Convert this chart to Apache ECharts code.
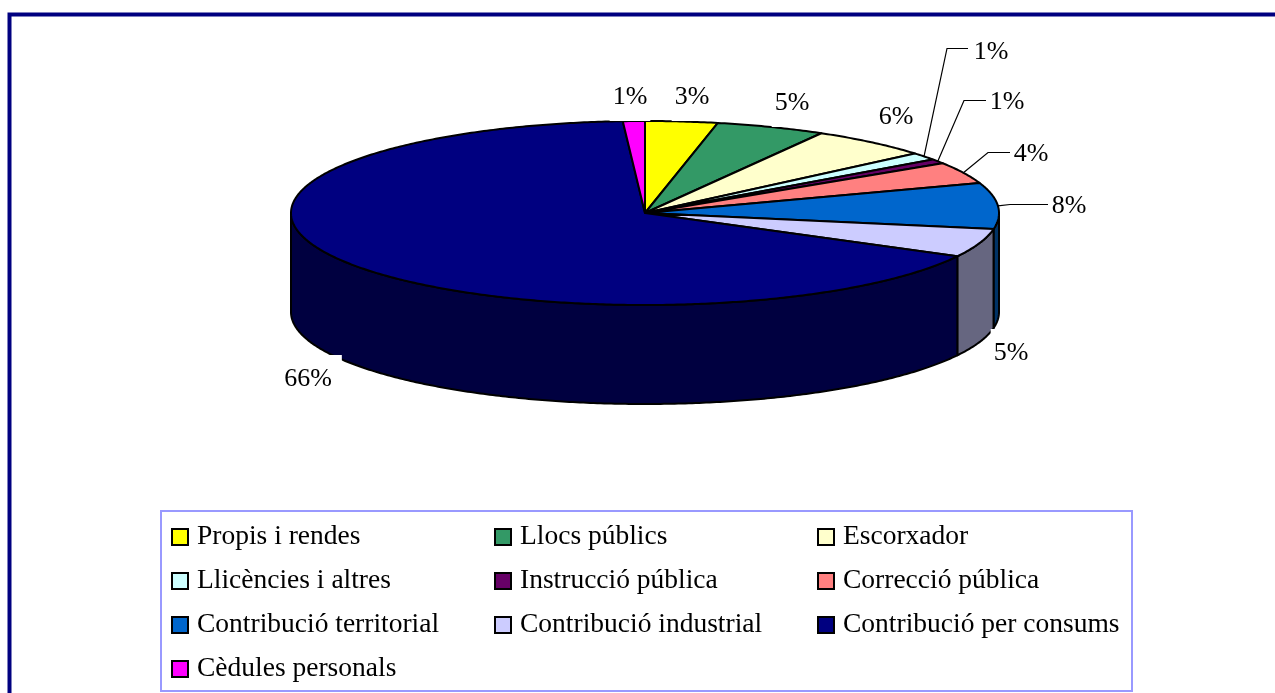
<!DOCTYPE html>
<html>
<head>
<meta charset="utf-8">
<script src="https://cdn.jsdelivr.net/npm/echarts@6/dist/echarts.min.js"></script>
<style>
  html, body { margin: 0; padding: 0; background: #fff; }
  #chart { width: 1275px; height: 693px; }
</style>
</head>
<body>
<div id="chart"></div>
<script>
// slice order is clockwise from the top of the pie
const categories = ['Propis i rendes', 'Llocs públics', 'Escorxador', 'Llicències i altres', 'Instrucció pública',
  'Correcció pública', 'Contribució territorial', 'Contribució industrial', 'Contribució per consums', 'Cèdules personals'];
const shares = [3.3, 5.0, 5.5, 1.3, 0.8, 3.8, 8.1, 5.0, 66.2, 1.0];
const colors = ['#FFFF00', '#339966', '#FFFFCC', '#CCFFFF', '#660066', '#FF8080', '#0066CC', '#CCCCFF', '#000080', '#FF00FF'];

// label centres; leaders bend at elbow, run along lineY and stop at end
const labelSpots = [
  { x: 692, y: 97 }, { x: 792, y: 103 }, { x: 896, y: 117 },
  { x: 991, y: 52, elbow: 947, end: 968, lineY: 48.5 },
  { x: 1007, y: 102, elbow: 964, end: 986, lineY: 100.5 },
  { x: 1031, y: 154, elbow: 988, end: 1010, lineY: 152.5 },
  { x: 1069, y: 206, elbow: 1010, end: 1048, lineY: 204.5 },
  { x: 1011, y: 353 }, { x: 308, y: 379, padX: 10 }, { x: 630, y: 97 }
];

const cx = 645, cy = 213, rx = 354, ry = 92, depth = 99;
const total = shares.reduce((a, b) => a + b, 0);
const serif = '"Liberation Serif", "Times New Roman", serif';

const starts = [];
shares.reduce((sum, v, i) => { starts[i] = sum; return sum + v; }, 0);

const rad = (share) => share / total * Math.PI * 2;
const onRim = (a, dy) => [cx + rx * Math.sin(a), cy - ry * Math.cos(a) + (dy || 0)];

function arc(a0, a1, dy) {
  const n = Math.max(2, Math.ceil((a1 - a0) / 0.01));
  const pts = [];
  for (let k = 0; k <= n; k++) pts.push(onRim(a0 + (a1 - a0) * k / n, dy));
  return pts;
}

function shade(hex) {
  const n = parseInt(hex.slice(1), 16);
  const half = (c) => Math.round(c / 2);
  return `rgb(${half(n >> 16)},${half((n >> 8) & 255)},${half(n & 255)})`;
}

const renderSlice = (i) => (params, api) => {
  const a0 = rad(starts[i]);
  const a1 = a0 + rad(api.value(0));
  const mid = (a0 + a1) / 2;
  const edge = { stroke: '#000', lineWidth: 2, lineJoin: 'round' };
  const children = [];

  // only the part of the rim facing us gets a side wall
  const f0 = Math.max(a0, Math.PI / 2), f1 = Math.min(a1, Math.PI * 1.5);
  if (f1 > f0) {
    children.push({
      type: 'polygon', z2: 1,
      shape: { points: arc(f0, f1).concat(arc(f0, f1, depth).reverse()) },
      style: Object.assign({ fill: shade(colors[i]) }, edge)
    });
  }
  children.push({
    type: 'polygon', z2: 2,
    shape: { points: [[cx, cy]].concat(arc(a0, a1)) },
    style: Object.assign({ fill: colors[i] }, edge)
  });

  const spot = labelSpots[i];
  if (spot.end) {
    children.push({
      type: 'polyline', z2: 3,
      shape: { points: [onRim(mid), [spot.elbow, spot.lineY], [spot.end, spot.lineY]] },
      style: { stroke: '#000', lineWidth: 1.2, fill: null }
    });
  }
  children.push({
    type: 'text', z2: 4,
    style: {
      text: Math.round(api.value(0)) + '%', x: spot.x, y: spot.y,
      align: 'center', verticalAlign: 'middle',
      font: '26px ' + serif, fill: '#000',
      backgroundColor: '#fff', padding: [spot.end ? 0 : 11, spot.padX || 3]
    }
  });
  return { type: 'group', children };
};

const legendColumn = (names, left) => ({
  orient: 'vertical', left, top: 517, data: names,
  selectedMode: false, icon: 'rect',
  itemWidth: 16, itemHeight: 16, itemGap: 14,
  itemStyle: { borderColor: '#000', borderWidth: 2 },
  textStyle: { fontFamily: serif, fontSize: 27.5, color: '#000', lineHeight: 30, padding: [0, 0, 0, 4] }
});

const chart = echarts.init(document.getElementById('chart'));
chart.setOption({
  animation: false,
  backgroundColor: '#fff',
  graphic: [
    { type: 'rect', shape: { x: 9.5, y: 14.5, width: 1500, height: 900 }, style: { fill: 'none', stroke: '#000080', lineWidth: 4 }, silent: true },
    { type: 'rect', shape: { x: 161, y: 511, width: 971, height: 180 }, style: { fill: 'none', stroke: '#9999FF', lineWidth: 2 }, silent: true }
  ],
  legend: [
    legendColumn([categories[0], categories[3], categories[6], categories[9]], 166),
    legendColumn([categories[1], categories[4], categories[7]], 489),
    legendColumn([categories[2], categories[5], categories[8]], 812)
  ],
  series: categories.map((name, i) => ({
    type: 'custom',
    name,
    coordinateSystem: 'none',
    silent: true,
    itemStyle: { color: colors[i] },
    data: [[shares[i]]],
    renderItem: renderSlice(i)
  }))
});
</script>
</body>
</html>
